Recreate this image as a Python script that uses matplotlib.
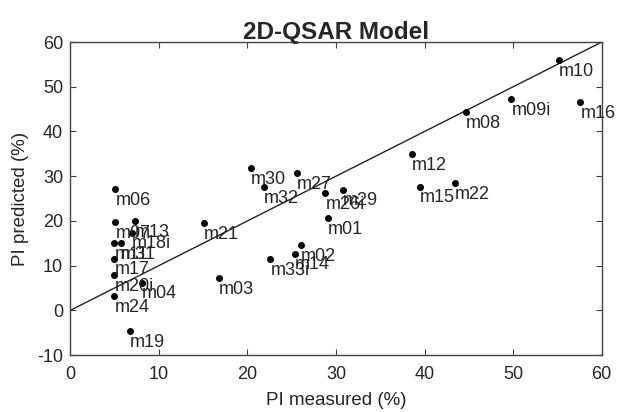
import matplotlib
matplotlib.use('Agg')
import matplotlib.pyplot as plt

# compound labels with measured / predicted PI (%)
labels = ['m01', 'm02', 'm03', 'm04', 'm06', 'm07', 'm08', 'm09i', 'm10',
          'm11', 'm12', 'm13', 'm14', 'm15', 'm16', 'm17', 'm18i', 'm19',
          'm20i', 'm21', 'm22', 'm24', 'm26i', 'm27', 'm29', 'm30', 'm31',
          'm32', 'm33i']
measured = [29.1, 26.0, 16.8, 8.1, 5.1, 5.1, 44.7, 49.8, 55.2,
            5.0, 38.6, 7.3, 25.4, 39.5, 57.6, 5.0, 7.0, 6.7,
            5.0, 15.1, 43.4, 5.0, 28.8, 25.6, 30.8, 20.4, 5.7,
            21.9, 22.6]
predicted = [20.6, 14.6, 7.3, 6.2, 27.1, 19.8, 44.4, 47.2, 56.0,
             15.0, 35.0, 20.0, 12.7, 27.7, 46.6, 11.6, 17.4, -4.7,
             7.9, 19.5, 28.5, 3.2, 26.2, 30.7, 27.0, 31.8, 15.0,
             27.6, 11.5]

ref_line = [0, 60]
xticks = [0, 10, 20, 30, 40, 50, 60]
yticks = [-10, 0, 10, 20, 30, 40, 50, 60]

plt.rcParams['font.family'] = ['Liberation Sans', 'DejaVu Sans']
plt.rcParams['axes.unicode_minus'] = False
txt_col = '#262626'

fig = plt.figure(figsize=(6.21, 4.12), dpi=100)
ax = fig.add_axes([0.113, 0.138, 0.856, 0.760])

ax.plot(ref_line, ref_line, color='#222222', lw=1.0)
ax.scatter(measured, predicted, s=16, color='black', zorder=3)

for lab, x, y in zip(labels, measured, predicted):
    ax.annotate(lab, (x, y), xytext=(0, -2), textcoords='offset points',
                ha='left', va='top', fontsize=13, color=txt_col)

ax.set_xlim(0, 60)
ax.set_ylim(-10, 60)
ax.set_xticks(xticks)
ax.set_yticks(yticks)
ax.tick_params(direction='in', top=True, right=True, length=4,
               labelsize=13, labelcolor=txt_col, color='#444444')
ax.tick_params(axis='y', pad=5)
ax.tick_params(axis='x', pad=8)
for sp in ax.spines.values():
    sp.set_color('#444444')
    sp.set_linewidth(1.0)

ax.set_xlabel('PI measured (%)', fontsize=13.5, color=txt_col, labelpad=6)
ax.set_ylabel('PI predicted (%)', fontsize=13.5, color=txt_col, labelpad=6)
ax.set_title('2D-QSAR Model', fontsize=17.5, fontweight='bold',
             color=txt_col, pad=2)

fig.savefig('out.png', dpi=100)
